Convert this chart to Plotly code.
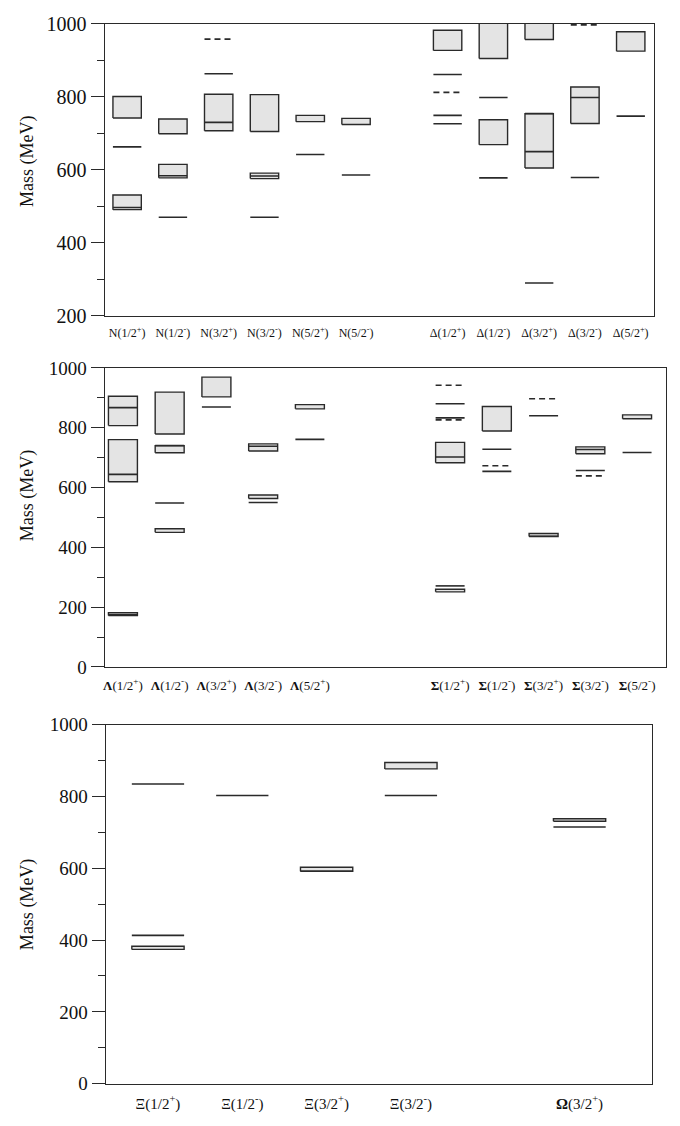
import plotly.graph_objects as go

# ---------------------------------------------------------------- N and Delta
nd_labels = ["N(1/2<sup>+</sup>)", "N(1/2<sup>-</sup>)", "N(3/2<sup>+</sup>)", "N(3/2<sup>-</sup>)",
             "N(5/2<sup>+</sup>)", "N(5/2<sup>-</sup>)",
             "Δ(1/2<sup>+</sup>)", "Δ(1/2<sup>-</sup>)", "Δ(3/2<sup>+</sup>)", "Δ(3/2<sup>-</sup>)",
             "Δ(5/2<sup>+</sup>)"]
nd_pos = [0, 1, 2, 3, 4, 5, 7, 8, 9, 10, 11]
# (category index, lower mass, upper mass) in MeV
nd_boxes = [(0, 742, 801), (0, 491, 531), (1, 699, 739), (1, 578, 615),
            (2, 707, 807), (3, 705, 806), (3, 576, 591), (4, 732, 749), (5, 724, 741),
            (6, 927, 982), (7, 905, 1010), (7, 669, 737), (8, 957, 1010), (8, 605, 754),
            (9, 727, 827), (10, 925, 978)]
# (category index, mass) in MeV
nd_levels = [(0, 663), (0, 497), (1, 584), (1, 470), (2, 863), (2, 730), (3, 583), (3, 470),
             (4, 642), (5, 586), (6, 861), (6, 749), (6, 726), (7, 798), (7, 578),
             (8, 754), (8, 650), (8, 290), (9, 798), (9, 579), (10, 747)]
nd_dashed = [(2, 958), (6, 812), (9, 997)]

# ---------------------------------------------------------------- Lambda and Sigma
ls_labels = ["<b>Λ</b>(1/2<sup>+</sup>)", "<b>Λ</b>(1/2<sup>-</sup>)", "<b>Λ</b>(3/2<sup>+</sup>)",
             "<b>Λ</b>(3/2<sup>-</sup>)", "<b>Λ</b>(5/2<sup>+</sup>)",
             "<b>Σ</b>(1/2<sup>+</sup>)", "<b>Σ</b>(1/2<sup>-</sup>)", "<b>Σ</b>(3/2<sup>+</sup>)",
             "<b>Σ</b>(3/2<sup>-</sup>)", "<b>Σ</b>(5/2<sup>-</sup>)"]
ls_pos = [0, 1, 2, 3, 4, 7, 8, 9, 10, 11]
ls_boxes = [(0, 807, 905), (0, 619, 760), (0, 172, 181), (1, 779, 919), (1, 716, 740),
            (1, 450, 462), (2, 903, 969), (3, 722, 746), (3, 563, 575), (4, 863, 877),
            (5, 683, 751), (5, 251, 260), (6, 789, 871), (7, 436, 446), (8, 713, 736),
            (9, 830, 843)]
ls_levels = [(0, 867), (0, 644), (0, 174), (1, 740), (1, 548), (2, 869), (3, 738), (3, 550),
             (4, 761), (5, 880), (5, 833), (5, 702), (5, 271), (6, 728), (6, 654),
             (7, 840), (7, 437), (8, 727), (8, 657), (9, 717)]
ls_dashed = [(5, 942), (5, 826), (6, 673), (7, 897), (8, 639)]

# ---------------------------------------------------------------- Xi and Omega
xo_labels = ["Ξ(1/2<sup>+</sup>)", "Ξ(1/2<sup>-</sup>)", "Ξ(3/2<sup>+</sup>)", "Ξ(3/2<sup>-</sup>)",
             "<b>Ω</b>(3/2<sup>+</sup>)"]
xo_pos = [0, 1, 2, 3, 5]
xo_boxes = [(0, 374, 383), (2, 592, 603), (3, 877, 895), (4, 731, 738)]
xo_levels = [(0, 835), (0, 413), (1, 803), (2, 592), (3, 803), (4, 715)]
xo_dashed = []

HALF = 0.31
FONT = "Liberation Serif"
INK = "#2a2a2a"
FILL = "#e4e4e4"


def box_path(pos, boxes):
    xs, ys = [], []
    for i, lo, hi in boxes:
        c = pos[i]
        xs += [c - HALF, c + HALF, c + HALF, c - HALF, c - HALF, None]
        ys += [lo, lo, hi, hi, lo, None]
    return xs, ys


def level_path(pos, levels):
    xs, ys = [], []
    for i, m in levels:
        c = pos[i]
        xs += [c - HALF, c + HALF, None]
        ys += [m, m, None]
    return xs, ys


fig = go.Figure()

panels = [
    (nd_pos, nd_labels, nd_boxes, nd_levels, nd_dashed, "x", "y"),
    (ls_pos, ls_labels, ls_boxes, ls_levels, ls_dashed, "x2", "y2"),
    (xo_pos, xo_labels, xo_boxes, xo_levels, xo_dashed, "x3", "y3"),
]

for pos, labels, boxes, levels, dashed, xa, ya in panels:
    bx, by = box_path(pos, boxes)
    fig.add_trace(go.Scatter(x=bx, y=by, mode="lines", fill="toself", fillcolor=FILL,
                             line=dict(color=INK, width=1.4), xaxis=xa, yaxis=ya,
                             hoverinfo="skip", showlegend=False))
    lx, ly = level_path(pos, levels)
    fig.add_trace(go.Scatter(x=lx, y=ly, mode="lines", line=dict(color=INK, width=1.6),
                             xaxis=xa, yaxis=ya, hoverinfo="skip", showlegend=False))
    if dashed:
        dx, dy = level_path(pos, dashed)
        fig.add_trace(go.Scatter(x=dx, y=dy, mode="lines",
                                 line=dict(color=INK, width=1.6, dash="6px,4px"),
                                 xaxis=xa, yaxis=ya, hoverinfo="skip", showlegend=False))

W, H = 680, 1126


def xdom(l, r):
    return [l / W, r / W]


def ydom(top, bottom):
    return [1 - bottom / H, 1 - top / H]


axis_line = dict(showline=True, mirror=True, linecolor=INK, linewidth=1.3,
                 showgrid=False, zeroline=False)


def x_axis(dom, rng, pos, labels, size, anchor):
    return dict(domain=dom, range=rng, tickmode="array", tickvals=pos, ticktext=labels,
                ticks="", ticklabelstandoff=6, anchor=anchor,
                tickfont=dict(family=FONT, size=size, color="#111"), **axis_line)


def y_axis(dom, rng, size, anchor):
    return dict(domain=dom, range=rng, tick0=0, dtick=200, ticks="outside", ticklen=13,
                tickwidth=1.2, tickcolor=INK, anchor=anchor,
                minor=dict(dtick=100, tick0=0, ticks="outside", ticklen=7,
                           tickwidth=1.2, tickcolor=INK),
                tickfont=dict(family=FONT, size=size, color="#111"), **axis_line)


fig.update_layout(
    width=W, height=H,
    margin=dict(l=0, r=0, t=0, b=0),
    paper_bgcolor="white", plot_bgcolor="white",
    font=dict(family=FONT),
    xaxis=x_axis(xdom(103, 654), [-0.49, 11.51], nd_pos, nd_labels, 12, "y"),
    yaxis=y_axis(ydom(13, 311), [200, 1000], 20, "x"),
    xaxis2=x_axis(xdom(103, 666), [-0.39, 11.62], ls_pos, ls_labels, 13, "y2"),
    yaxis2=y_axis(ydom(364, 669), [0, 1000], 19, "x2"),
    xaxis3=x_axis(xdom(104, 652), [-0.62, 5.86], xo_pos, xo_labels, 15, "y3"),
    yaxis3=y_axis(ydom(728, 1094), [0, 1000], 19, "x3"),
)

for yc in (153, 494, 911):
    fig.add_annotation(text="Mass (MeV)", xref="paper", yref="paper", x=25 / W, y=1 - yc / H,
                       textangle=-90, showarrow=False, xanchor="center", yanchor="middle",
                       font=dict(family=FONT, size=18, color="#111"))

fig.write_html("out.html")
